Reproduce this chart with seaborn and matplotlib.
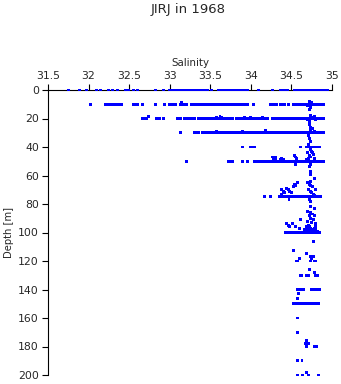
import matplotlib
matplotlib.use("Agg")
import matplotlib.pyplot as plt
import seaborn as sns
import pandas as pd

# ---------------- data (salinity at standard depths) ----------------
depth_levels = [0, 10, 20, 30, 40, 50, 75, 100, 140, 150]

sal_0 = [31.75, 31.89, 31.98, 32.10, 32.15, 32.24, 32.30, 32.36, 32.45, 32.49,
         32.55, 32.60, 32.83, 32.92, 33.00,
         33.04, 33.06, 33.08, 33.10, 33.12, 33.14, 33.16, 33.18, 33.20, 33.22,
         33.24, 33.26, 33.28, 33.30, 33.32, 33.34, 33.36, 33.38, 33.40, 33.42,
         33.44, 33.46, 33.52,
         33.60, 33.62, 33.64, 33.66, 33.68, 33.70, 33.72, 33.74, 33.76, 33.78,
         33.80, 33.82, 33.84, 33.86, 33.88, 33.90, 33.92, 33.94, 33.96,
         34.09, 34.27, 34.36, 34.39, 34.42, 34.45,
         34.54, 34.56, 34.58, 34.60, 34.62, 34.64, 34.66, 34.68, 34.70, 34.72,
         34.74, 34.76, 34.78, 34.80, 34.82, 34.84, 34.86, 34.88, 34.90, 34.92,
         34.94, 34.95]

sal_10 = [32.02,
          32.21, 32.23, 32.25, 32.27, 32.29, 32.31, 32.33, 32.35, 32.37, 32.39, 32.41,
          32.55, 32.58, 32.60, 32.66, 32.82, 32.94, 33.00, 33.03, 33.07,
          33.13, 33.16, 33.19, 33.21,
          33.27, 33.29, 33.31, 33.33, 33.35, 33.37, 33.39, 33.41, 33.43, 33.45,
          33.48, 33.50, 33.52, 33.54, 33.56, 33.58, 33.60, 33.62, 33.64, 33.66,
          33.69, 33.71, 33.73, 33.75, 33.77, 33.79, 33.81, 33.83, 33.85, 33.87,
          33.89, 33.91, 33.93, 33.96,
          34.03, 34.24, 34.27, 34.30, 34.32, 34.36, 34.39, 34.42, 34.46,
          34.52, 34.54, 34.56, 34.58, 34.60, 34.62, 34.64, 34.66, 34.68, 34.70,
          34.72, 34.74, 34.76, 34.78, 34.80, 34.82, 34.84, 34.86, 34.89]

sal_20 = [32.66, 32.68, 32.70, 32.72, 32.84, 32.87, 32.92,
          33.09, 33.11, 33.13, 33.18, 33.20, 33.23, 33.27, 33.29, 33.31,
          33.35, 33.37, 33.39, 33.41,
          33.43, 33.45, 33.47, 33.49, 33.51, 33.53, 33.55, 33.57, 33.59, 33.61,
          33.63, 33.65, 33.67, 33.69, 33.71, 33.73, 33.75, 33.78,
          33.82, 33.84, 33.86, 33.88, 33.90, 33.92, 33.94, 33.96, 33.98,
          34.01, 34.03, 34.05, 34.07, 34.09,
          34.11, 34.13, 34.15, 34.17, 34.19, 34.21,
          34.27, 34.29, 34.31, 34.33, 34.35, 34.37, 34.39, 34.41, 34.43, 34.45,
          34.47, 34.49, 34.51, 34.53, 34.55, 34.57, 34.59, 34.61, 34.63, 34.65,
          34.67, 34.69, 34.71, 34.73, 34.75, 34.77, 34.79, 34.81, 34.83, 34.85,
          34.87, 34.89]

sal_30 = [33.13, 33.31, 33.33, 33.36, 33.40, 33.41, 33.44, 33.46, 33.47, 33.50,
          33.52, 33.53, 33.56, 33.58, 33.60, 33.62, 33.64, 33.66,
          33.68, 33.70, 33.72, 33.74, 33.76, 33.78, 33.80, 33.82, 33.84, 33.86,
          33.88, 33.90, 33.92, 33.94, 33.96, 33.98, 34.00, 34.02, 34.04, 34.06,
          34.08, 34.10, 34.12, 34.14, 34.16, 34.18, 34.20, 34.22, 34.24, 34.26,
          34.28, 34.30, 34.32, 34.34, 34.36, 34.38, 34.40, 34.43,
          34.46, 34.48, 34.50, 34.52, 34.54, 34.56, 34.58, 34.60, 34.62, 34.64,
          34.66, 34.68, 34.70, 34.72, 34.74, 34.76, 34.78, 34.80, 34.82, 34.84,
          34.86, 34.89]

sal_40 = [33.90, 33.99, 34.01, 34.03, 34.05, 34.61,
          34.69, 34.71, 34.73, 34.75, 34.77, 34.79, 34.81, 34.83, 34.85]

sal_50 = [33.21, 33.73, 33.76, 33.78, 33.90, 33.96,
          34.05, 34.07, 34.09, 34.11, 34.13, 34.15, 34.17, 34.19, 34.21, 34.23,
          34.25, 34.27, 34.29, 34.31, 34.33, 34.35, 34.37, 34.39, 34.41, 34.43,
          34.45, 34.47, 34.49, 34.51, 34.53, 34.55, 34.57, 34.59, 34.61, 34.63,
          34.65, 34.67, 34.69, 34.71, 34.73, 34.75, 34.77, 34.79, 34.81, 34.83,
          34.85, 34.87, 34.89]

sal_75 = [34.17, 34.24,
          34.35, 34.37, 34.39, 34.41, 34.43, 34.45, 34.47, 34.49, 34.51, 34.53,
          34.55, 34.57, 34.59, 34.61, 34.63, 34.65, 34.67, 34.69, 34.71, 34.73,
          34.75, 34.77, 34.79, 34.81, 34.83, 34.86]

sal_100 = [34.43, 34.45, 34.47, 34.49, 34.51, 34.53, 34.55, 34.57, 34.59, 34.61,
           34.63, 34.65, 34.67, 34.69, 34.71, 34.73, 34.75, 34.77, 34.79, 34.81,
           34.83, 34.85]

sal_140 = [34.57, 34.61, 34.63, 34.65, 34.75, 34.77, 34.79, 34.81, 34.83, 34.85]

sal_150 = [34.52, 34.54, 34.56, 34.58, 34.60, 34.62, 34.65, 34.67, 34.69, 34.71,
           34.73, 34.75, 34.77, 34.79, 34.81, 34.84]

level_sal = [sal_0, sal_10, sal_20, sal_30, sal_40, sal_50, sal_75, sal_100,
             sal_140, sal_150]

# scattered observations between standard depths
extra_sal = [34.72, 34.73, 34.72, 34.75, 34.78, 34.70,
             34.74, 34.76, 34.78, 34.72, 34.72, 34.70, 34.80,
             34.74, 34.76, 34.73, 34.78, 34.71, 34.72, 34.74, 34.71,
             34.73, 34.75, 34.70, 34.77, 34.72, 34.74, 34.71, 34.78, 34.69, 34.76,
             34.73, 34.72, 34.73, 34.74,
             34.27, 34.29, 34.31, 34.28, 34.30, 34.36, 34.38, 34.40, 34.54, 34.55,
             34.56, 34.55,
             33.58, 33.90, 34.18, 34.32,
             33.58, 33.62, 33.64, 33.92, 34.00, 34.14, 32.74, 33.14,
             34.38, 34.40, 34.42, 34.44, 34.46, 34.48, 34.50, 34.52, 34.54, 34.55,
             34.57, 34.38, 34.47,
             34.70, 34.72, 34.74, 34.76, 34.71, 34.73, 34.75, 34.77, 34.79, 34.80,
             34.78, 34.72, 34.74, 34.73,
             34.73, 34.78, 34.70, 34.74, 34.76, 34.72, 34.79, 34.74, 34.77, 34.70,
             34.75, 34.80, 34.71,
             34.61, 34.44, 34.46, 34.48, 34.51, 34.55, 34.60, 34.66, 34.68, 34.70,
             34.72, 34.74, 34.76, 34.78, 34.80, 34.82, 34.68, 34.72, 34.76, 34.80,
             34.77,
             34.52, 34.53, 34.60, 34.56, 34.58, 34.69, 34.73, 34.75, 34.77, 34.78,
             34.80, 34.74,
             34.72, 34.79, 34.61, 34.63, 34.69, 34.71, 34.80, 34.82,
             34.59, 34.57,
             34.57, 34.57, 34.69, 34.68, 34.67, 34.71, 34.69, 34.79, 34.81, 34.57,
             34.63, 34.57, 34.64, 34.68, 34.71, 34.83]
extra_depth = [8, 12, 14, 9, 10, 11,
               18, 19, 18.5, 22, 24, 21, 21,
               26, 27, 28, 29, 32, 34, 36, 38,
               42, 43, 44, 45, 46, 47, 48, 48, 49, 44,
               52, 54, 57, 59,
               47, 47, 47, 48.5, 48.5, 48.5, 48, 48.5, 46, 47,
               48, 52,
               29, 29, 28.5, 29.5,
               19, 18.5, 19, 19, 19.5, 19.5, 18.5, 9,
               70, 71, 72, 69, 70, 71, 72, 68, 66, 67,
               65, 73, 77,
               65, 66, 67, 68, 70, 71, 72, 73, 74, 70,
               62, 77, 78, 64,
               82, 83, 85, 86, 87, 88, 88, 90, 91, 92,
               93, 94, 95,
               91, 94, 95, 96, 94, 96, 97, 98, 96, 97,
               96, 97, 98, 97, 98, 99, 99, 99, 99, 96,
               106,
               113, 112.5, 118, 120, 120, 115, 117, 118, 117, 120,
               120, 120,
               126, 128, 130, 130, 130, 130, 130, 130,
               143, 146,
               160, 170, 176, 178, 178, 178, 180, 180, 180, 190,
               190, 200, 200, 198, 200, 200]

# ---------------- build table ----------------
frames = [pd.DataFrame({"Salinity": s, "Depth": [d] * len(s)})
          for d, s in zip(depth_levels, level_sal)]
frames.append(pd.DataFrame({"Salinity": extra_sal, "Depth": extra_depth}))
df = pd.concat(frames, ignore_index=True)

x_ticks = [31.5, 32, 32.5, 33, 33.5, 34, 34.5, 35]
x_tick_labels = ["31.5", "32", "32.5", "33", "33.5", "34", "34.5", "35"]
y_ticks = [0, 20, 40, 60, 80, 100, 120, 140, 160, 180, 200]

# ---------------- plot ----------------
sns.set_style("white")
plt.rcParams["font.family"] = ["DejaVu Sans"]

fig = plt.figure(figsize=(3.41, 3.84), dpi=100)
ax = fig.add_axes([48 / 341, 1 - 375 / 384, 284 / 341, 285 / 384])

sns.scatterplot(data=df, x="Salinity", y="Depth", ax=ax, marker="s", s=4.5,
                color="#0000FF", edgecolor="none", linewidth=0, clip_on=False,
                zorder=5)

ax.set_xlim(31.5, 35)
ax.set_ylim(200, 0)
ax.xaxis.tick_top()
ax.xaxis.set_label_position("top")
ax.set_xticks(x_ticks)
ax.set_xticklabels(x_tick_labels)
ax.set_yticks(y_ticks)
ax.set_xlabel("Salinity", fontsize=7.4, labelpad=3.5)
ax.set_ylabel("Depth [m]", fontsize=7.2, labelpad=3)
ax.tick_params(axis="both", direction="out", length=4, width=0.8,
               labelsize=7.8, color="black", pad=2.5)
ax.tick_params(axis="x", top=True, bottom=False)
ax.tick_params(axis="y", left=True)
for side in ["right", "bottom"]:
    ax.spines[side].set_visible(False)
for side in ["left", "top"]:
    ax.spines[side].set_color("black")
    ax.spines[side].set_linewidth(0.8)

fig.text(188 / 341, 1 - 9 / 384, "JIRJ in 1968", ha="center", va="center",
         fontsize=9.5)

fig.savefig("out.png", dpi=100)
